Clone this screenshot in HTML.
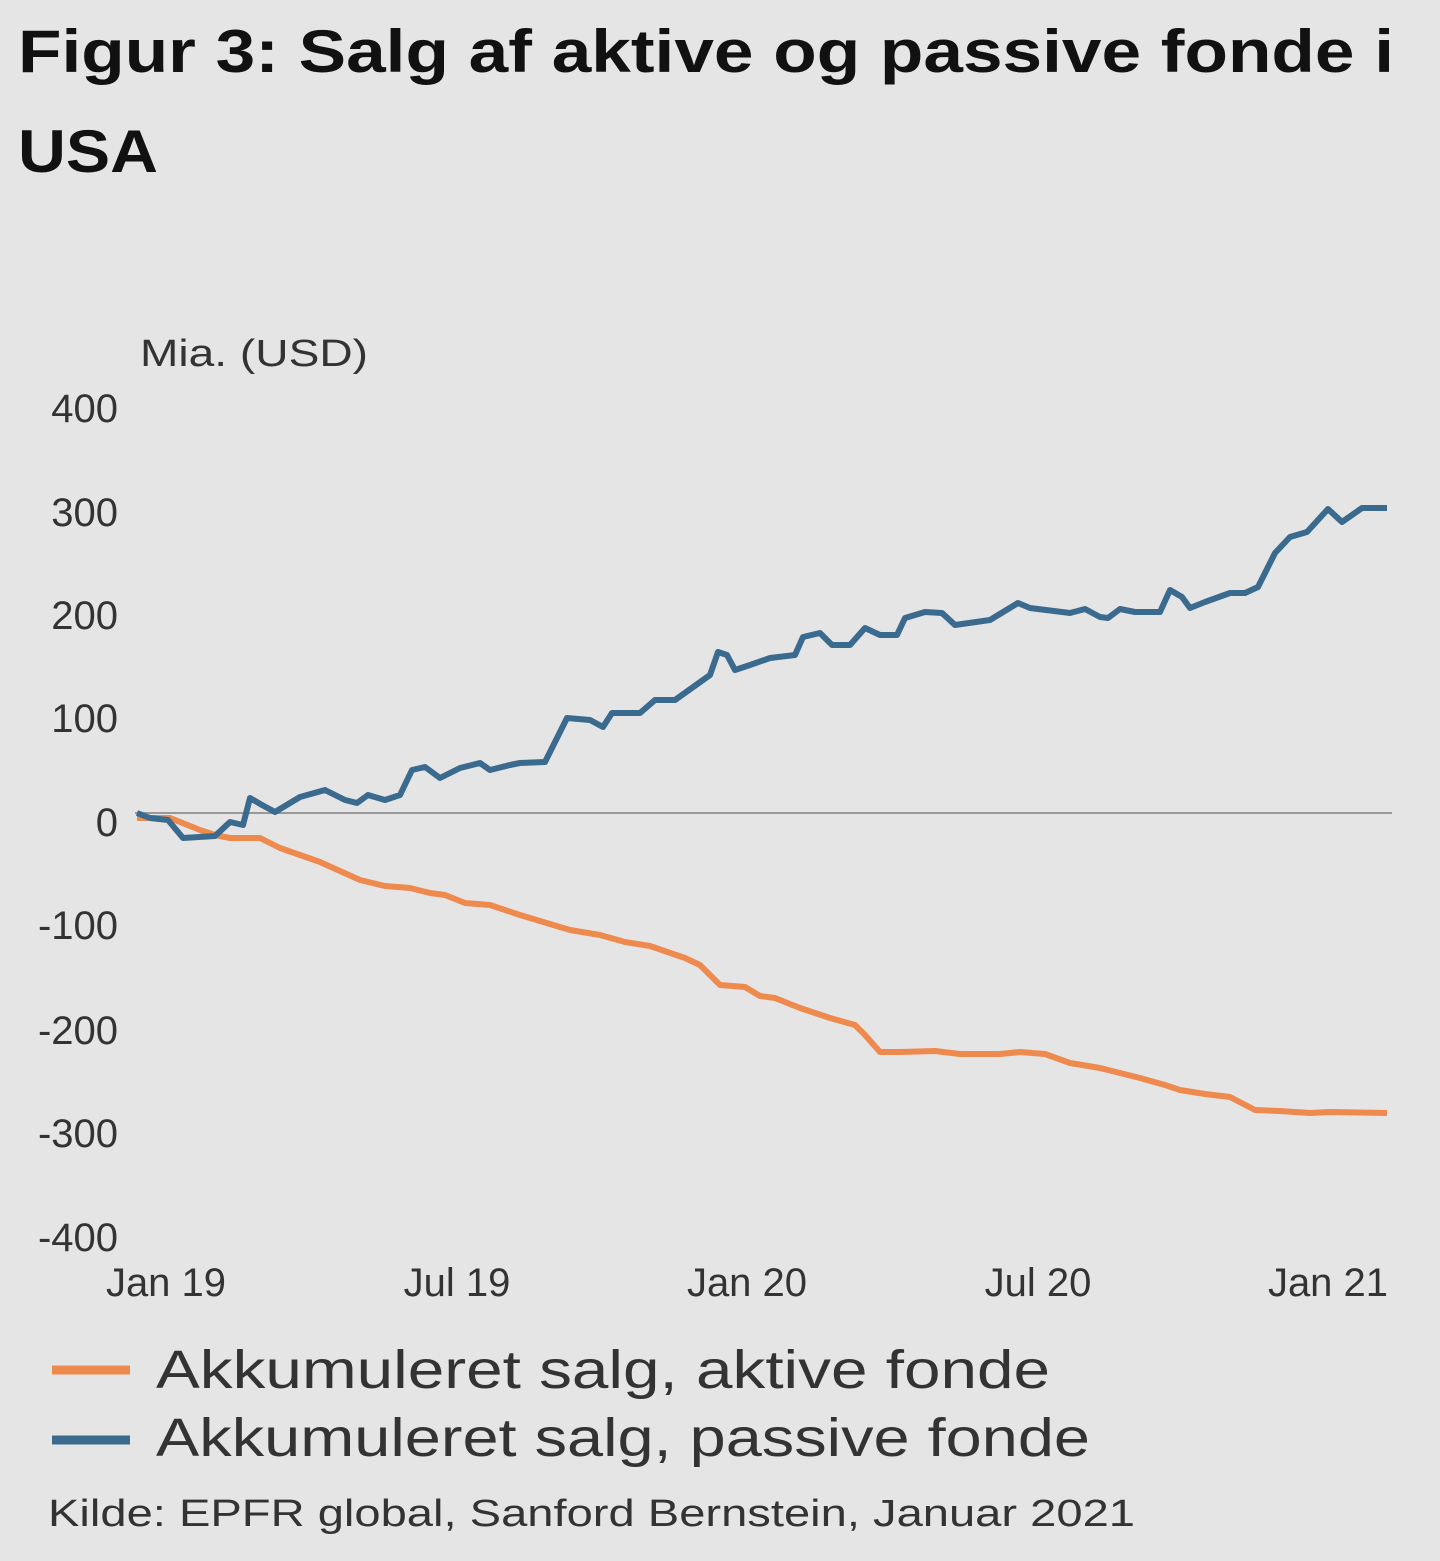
<!DOCTYPE html>
<html><head><meta charset="utf-8"><style>
html,body{margin:0;padding:0;background:#e5e5e5;}
body{width:1440px;height:1561px;overflow:hidden;position:relative;font-family:"Liberation Sans",sans-serif;}
</style></head><body>
<svg width="1440" height="1561" style="position:absolute;left:0;top:0" font-family="Liberation Sans, sans-serif">
<text x="18" y="72" font-size="60" font-weight="bold" fill="#111" textLength="1376" lengthAdjust="spacingAndGlyphs">Figur 3: Salg af aktive og passive fonde i</text>
<text x="18" y="172" font-size="60" font-weight="bold" fill="#111" textLength="140" lengthAdjust="spacingAndGlyphs">USA</text>
<text x="140" y="366" font-size="38" fill="#333" textLength="228" lengthAdjust="spacingAndGlyphs">Mia. (USD)</text>
<g font-size="40" fill="#333" text-anchor="end">
<text x="118" y="422">400</text>
<text x="118" y="526">300</text>
<text x="118" y="629">200</text>
<text x="118" y="732">100</text>
<text x="118" y="836">0</text>
<text x="118" y="939">-100</text>
<text x="118" y="1044">-200</text>
<text x="118" y="1147">-300</text>
<text x="118" y="1251">-400</text>
</g>
<g font-size="40" fill="#333" text-anchor="middle">
<text x="166" y="1296">Jan 19</text>
<text x="457" y="1296">Jul 19</text>
<text x="747" y="1296">Jan 20</text>
<text x="1038" y="1296">Jul 20</text>
<text x="1328" y="1296">Jan 21</text>
</g>
<line x1="135" y1="813" x2="1392" y2="813" stroke="#999" stroke-width="2"/>
<polyline fill="none" stroke="#ee8a4e" stroke-width="6" stroke-linejoin="round" points="137,818 170,818 200,830 215,835 230,838 260,838 280,848 320,862 360,880 385,886 410,888 430,893 445,895 465,903 490,905 520,915 570,930 600,935 625,942 650,946 685,958 700,965 720,985 745,987 760,996 775,998 800,1008 830,1018 855,1025 865,1035 880,1052 900,1052 935,1051 960,1054 1000,1054 1020,1052 1045,1054 1070,1063 1100,1068 1140,1078 1165,1085 1180,1090 1205,1094 1230,1097 1255,1110 1280,1111 1310,1113 1330,1112 1387,1113"/>
<polyline fill="none" stroke="#3b6a8f" stroke-width="6" stroke-linejoin="round" points="137,813 150,818 168,820 183,838 215,836 230,822 243,825 250,798 262,805 275,812 300,797 325,790 345,800 357,803 368,795 385,800 400,795 412,770 425,767 440,778 460,768 480,763 490,770 510,765 520,763 545,762 567,718 590,720 603,727 612,713 640,713 655,700 675,700 710,675 718,652 727,655 735,670 750,665 770,658 795,655 803,637 820,633 832,645 850,645 865,628 880,635 897,635 905,618 925,612 942,613 955,625 990,620 1018,603 1030,608 1070,613 1085,609 1100,617 1108,618 1120,609 1135,612 1160,612 1170,590 1182,597 1190,608 1205,602 1230,593 1245,593 1258,587 1275,553 1290,537 1307,532 1328,509 1342,522 1362,508 1387,508"/>
<line x1="52" y1="1370" x2="130" y2="1370" stroke="#ee8a4e" stroke-width="9"/>
<line x1="52" y1="1440" x2="130" y2="1440" stroke="#3b6a8f" stroke-width="9"/>
<text x="156" y="1388" font-size="54" fill="#333" textLength="894" lengthAdjust="spacingAndGlyphs">Akkumuleret salg, aktive fonde</text>
<text x="156" y="1456" font-size="54" fill="#333" textLength="934" lengthAdjust="spacingAndGlyphs">Akkumuleret salg, passive fonde</text>
<text x="48" y="1526" font-size="38" fill="#333" textLength="1087" lengthAdjust="spacingAndGlyphs">Kilde: EPFR global, Sanford Bernstein, Januar 2021</text>
</svg>
</body></html>
